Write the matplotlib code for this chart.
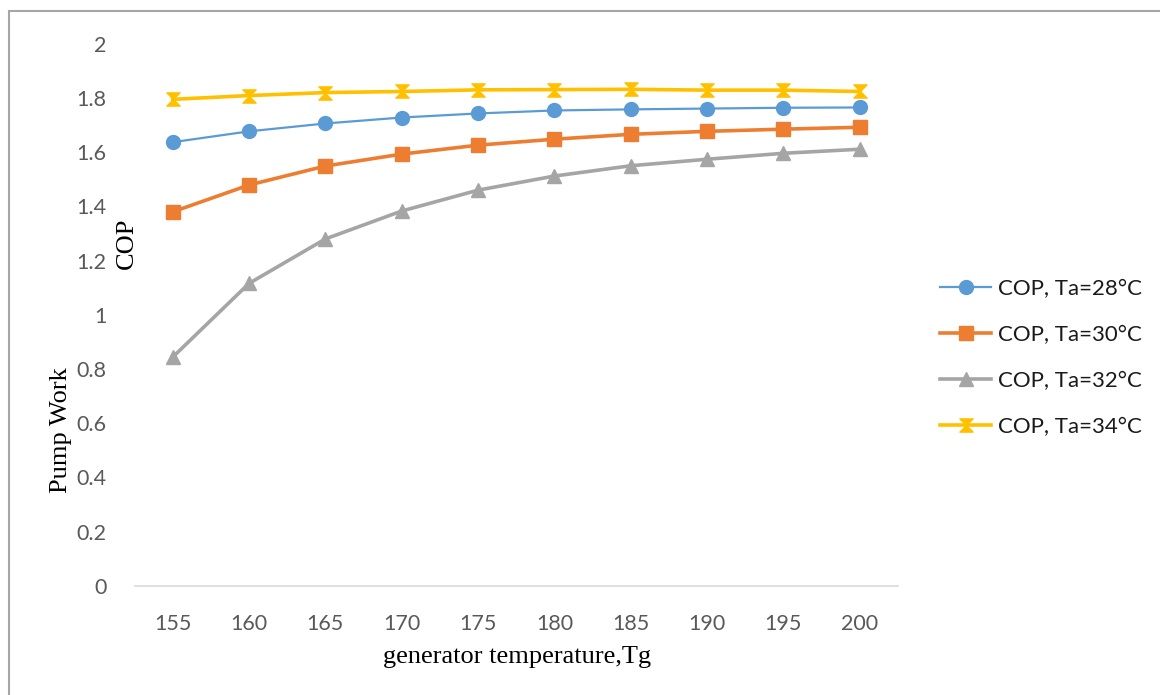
import numpy as np
import matplotlib.pyplot as plt
from matplotlib.path import Path
from matplotlib.lines import Line2D

# data
tg = [155, 160, 165, 170, 175, 180, 185, 190, 195, 200]
cop28 = [1.637, 1.677, 1.706, 1.728, 1.743, 1.754, 1.758, 1.761, 1.764, 1.765]
cop30 = [1.380, 1.479, 1.549, 1.593, 1.626, 1.648, 1.666, 1.677, 1.685, 1.692]
cop32 = [0.844, 1.116, 1.280, 1.383, 1.460, 1.512, 1.550, 1.574, 1.596, 1.611]
cop34 = [1.795, 1.809, 1.820, 1.824, 1.830, 1.831, 1.832, 1.829, 1.829, 1.824]
labels = ['COP, Ta=28°C', 'COP, Ta=30°C', 'COP, Ta=32°C', 'COP, Ta=34°C']

# hourglass marker like the excel one
hourglass = Path([(-1, 1), (1, 1), (-1, -1), (1, -1), (-1, 1)],
                 [Path.MOVETO, Path.LINETO, Path.LINETO, Path.LINETO, Path.CLOSEPOLY])

fig = plt.figure(figsize=(11.6, 6.95), dpi=100)
ax = fig.add_axes([0.116, 0.157, 0.658, 0.780])

x = np.arange(len(tg))
ax.plot(x, cop28, '-o', color='#5B9BD5', lw=1.6, ms=10, label=labels[0])
ax.plot(x, cop30, '-s', color='#ED7D31', lw=2.6, ms=9.5, label=labels[1])
ax.plot(x, cop32, '-^', color='#A5A5A5', lw=2.6, ms=10.5, label=labels[2])
ax.plot(x, cop34, '-', marker=hourglass, color='#FFC000', lw=2.6, ms=9.5, label=labels[3])

ax.set_xlim(-0.5, len(tg) - 0.5)
ax.set_ylim(0, 2)
ax.set_xticks(x)
ax.set_xticklabels([str(t) for t in tg])
ax.set_yticks(np.arange(0, 2.01, 0.2))
ax.set_yticklabels(['0', '0.2', '0.4', '0.6', '0.8', '1', '1.2', '1.4', '1.6', '1.8', '2'])

for s in ['top', 'right', 'left']:
    ax.spines[s].set_visible(False)
ax.spines['bottom'].set_color('#D9D9D9')
ax.spines['bottom'].set_linewidth(1.2)
ax.tick_params(length=0, labelsize=15.5, labelcolor='#595959')
ax.tick_params(axis='x', pad=20)
ax.tick_params(axis='y', pad=20)
for t in ax.get_xticklabels() + ax.get_yticklabels():
    t.set_fontfamily('Lato')

# axis titles, serif like the original
fig.text(383 / 1160, 0.055, 'generator temperature,Tg', family='Liberation Serif',
         fontsize=19, ha='left', va='center')
fig.text(0.053, 0.381, 'Pump Work', family='Liberation Serif', fontsize=19,
         rotation=90, ha='center', va='center')
fig.text(0.109, 0.650, 'COP', family='Liberation Serif', fontsize=19,
         rotation=90, ha='center', va='center')

leg = fig.legend(loc='upper left', bbox_to_anchor=(940 / 1160, 1 - 279 / 695),
                 bbox_transform=fig.transFigure, frameon=False, borderpad=0,
                 borderaxespad=0, prop={'family': 'Lato', 'size': 16},
                 handlelength=2.3, labelspacing=1.17, handletextpad=0.3)
for t in leg.get_texts():
    t.set_color('#1a1a1a')

# outer border of the chart
fig.add_artist(Line2D([9 / 1160, 9 / 1160], [0, 1 - 11 / 695], color='#A6A6A6', lw=1.5))
fig.add_artist(Line2D([9 / 1160, 1], [1 - 11 / 695, 1 - 11 / 695], color='#A6A6A6', lw=1.5))

plt.savefig('out.png', dpi=100)
